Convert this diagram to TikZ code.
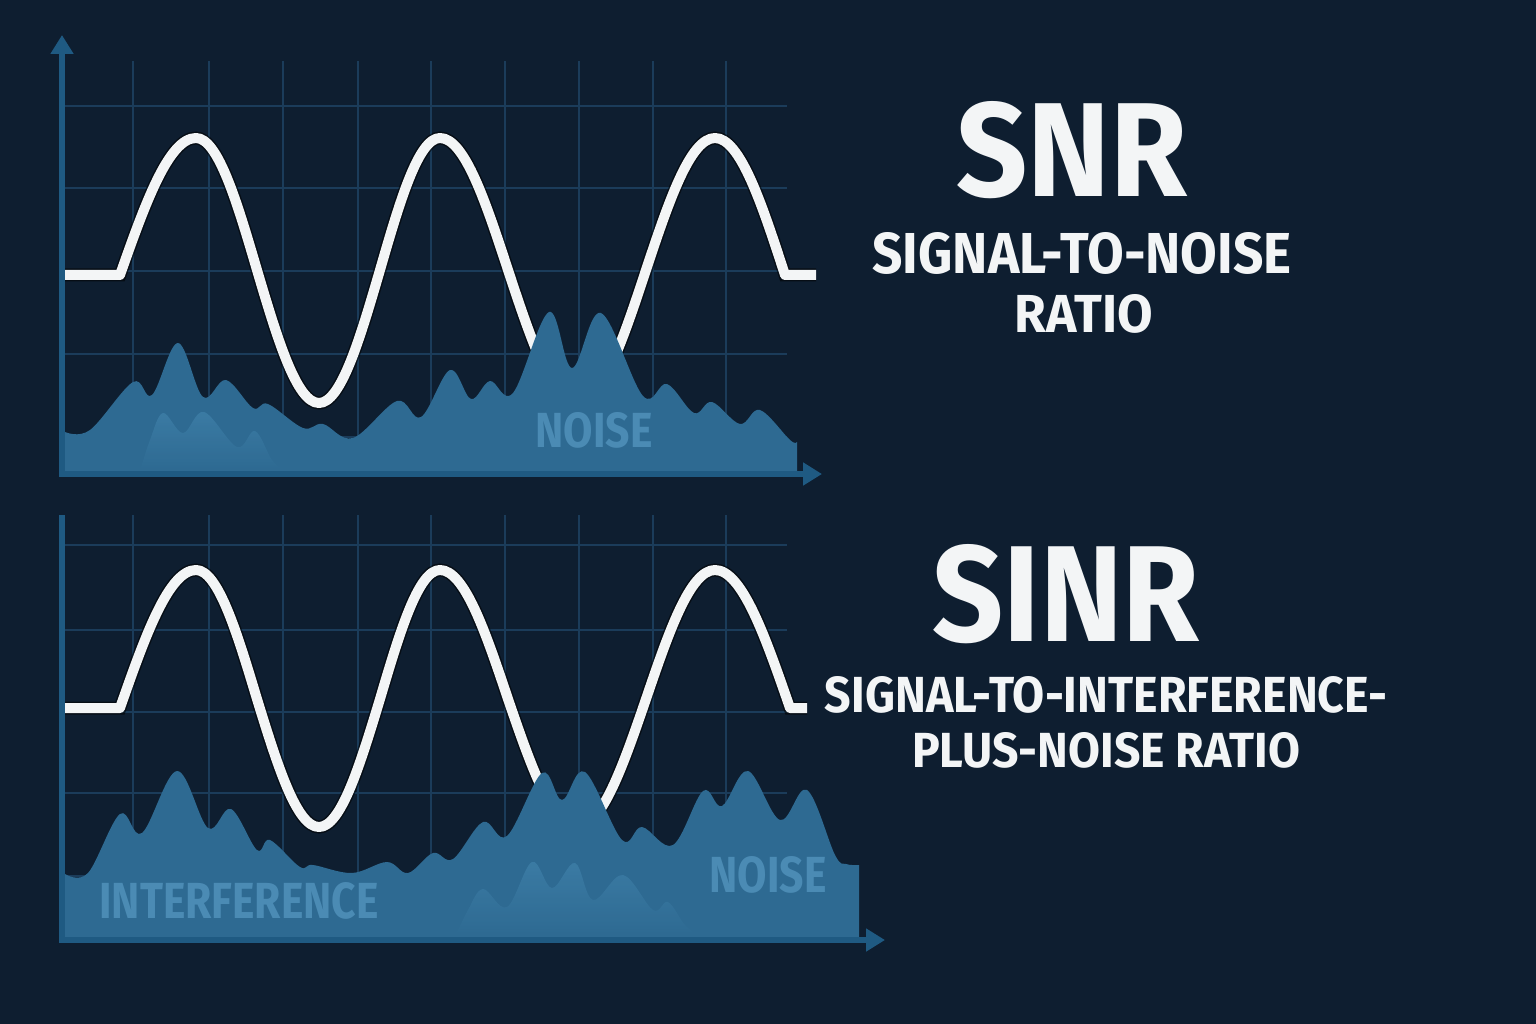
\documentclass[tikz,border=0pt]{standalone}
\usepackage{fontspec}
\setmainfont{Fira Sans}
\usepackage{graphicx}
\usetikzlibrary{arrows.meta}

\definecolor{bgnavy}{HTML}{0E1E30}
\definecolor{gridblue}{HTML}{1B3C5A}
\definecolor{axisblue}{HTML}{1F5A82}
\definecolor{noiseblue}{HTML}{2E6A92}
\definecolor{humpblue}{HTML}{3F80A9}
\definecolor{labelblue}{HTML}{4B8BB4}
\definecolor{signalwhite}{HTML}{F3F5F6}

% text squeezed into the box it takes in the picture
\newcommand{\fitted}[3]{\resizebox{#1}{#2}{\bfseries #3}}

\begin{document}
\begin{tikzpicture}[x=1pt, y=-1pt,
  gridline/.style={draw=gridblue, line width=1.6pt},
  axis/.style={draw=axisblue, line width=6pt, line join=miter},
  tip/.style={-{Triangle[length=19pt, width=22pt]}},
  signal/.style={draw=signalwhite, line width=10pt, line join=round,
    preaction={draw=black, draw opacity=.55, line width=13pt}},
  noise/.style={fill=noiseblue},
  hump/.style={top color=humpblue, bottom color=noiseblue, opacity=.8},
  heading/.style={text=signalwhite, inner sep=0pt},
  tag/.style={text=labelblue, inner sep=0pt}
]
  \useasboundingbox (0,0) rectangle (1536,1024);
  \fill[bgnavy] (0,0) rectangle (1536,1024);

  % SNR chart
  \foreach \gx in {133,209,283,358,431,505,579,653,726}
    \draw[gridline] (\gx,61) -- (\gx,470);
  \foreach \gy in {106,188,271,354,437}
    \draw[gridline] (65,\gy) -- (787,\gy);
  \draw[signal] (65,275) -- (120,275) sin (196,138) cos (257,270)
    sin (319,403) cos (380,270) sin (440,138) cos (508,270)
    sin (577,403) cos (646,270) sin (715,138) cos (785,275) -- (816,275);
  \fill[noise] plot[smooth, tension=.6] coordinates {(65,432) (90,430)
    (133,382) (152,395) (178,343) (203,397) (226,380) (253,408) (268,404)
    (303,428) (323,424) (353,438) (397,401) (421,417) (450,370) (471,399)
    (490,381) (513,393) (549,312) (572,368) (601,313) (643,396) (667,384)
    (694,413) (712,402) (740,424) (760,410) (790,440) (797,442)}
    -- (797,471) -- (65,471) -- cycle;
  \path[hump] plot[smooth, tension=.6] coordinates {(140,471) (150,440)
    (163,413) (183,433) (204,412) (237,447) (255,431) (272,460) (285,471)}
    -- cycle;
  \node[tag] (noiseA) at (594,430) {\fitted{117pt}{35pt}{NOISE}};
  \coordinate (yA) at (62,35);
  \coordinate (oA) at (62,474);
  \coordinate (xA) at (822,474);
  \draw[axis, tip] (oA) -- (yA);
  \draw[axis, tip] ([xshift=-3pt]oA) -- (xA);

  % SINR chart
  \foreach \gx in {133,209,283,358,431,505,579,653,726}
    \draw[gridline] (\gx,515) -- (\gx,936);
  \foreach \gy in {545,630,712,793,876}
    \draw[gridline] (65,\gy) -- (787,\gy);
  \draw[signal] (65,708) -- (120,708) sin (196,570) cos (257,699)
    sin (319,827) cos (380,699) sin (440,570) cos (508,699)
    sin (577,827) cos (646,699) sin (715,570) cos (790,708) -- (807,708);
  \fill[noise] plot[smooth, tension=.6] coordinates {(65,874) (88,873)
    (120,814) (142,833) (177,771) (208,828) (231,809) (257,850) (270,840)
    (300,867) (313,865) (352,873) (387,862) (408,873) (433,853) (453,859)
    (483,822) (507,836) (542,773) (562,800) (585,772) (622,840) (642,827)
    (673,845) (703,791) (722,806) (748,771) (780,820) (807,790) (835,855)
    (846,864) (859,865)}
    -- (859,937) -- (65,937) -- cycle;
  \path[hump] plot[smooth, tension=.6] coordinates {(455,937) (468,910)
    (483,889) (507,907) (532,862) (552,888) (575,863) (593,900) (623,875)
    (653,910) (668,902) (685,925) (700,937)}
    -- cycle;
  \node[tag] (interB) at (239,901) {\fitted{279pt}{36pt}{INTERFERENCE}};
  \node[tag] (noiseB) at (768,875) {\fitted{117pt}{36pt}{NOISE}};
  \coordinate (yB) at (62,515);
  \coordinate (oB) at (62,940);
  \coordinate (xB) at (885,940);
  \draw[axis] (yB) -- ([yshift=3pt]oB);
  \draw[axis, tip] ([xshift=-3pt]oB) -- (xB);

  % headings
  \node[heading] (snr) at (1072,150) {\fitted{231pt}{95pt}{SNR}};
  \node[heading] (snrlong) at (1082,253) {\fitted{419pt}{41pt}{SIGNAL-TO-NOISE}};
  \node[heading] (snrratio) at (1084,314) {\fitted{138pt}{38pt}{RATIO}};
  \node[heading] (sinr) at (1066,594) {\fitted{267pt}{97pt}{SINR}};
  \node[heading] (sinrlong) at (1106,695) {\fitted{562pt}{36pt}{SIGNAL-TO-INTERFERENCE-}};
  \node[heading] (sinrratio) at (1106,750) {\fitted{388pt}{35pt}{PLUS-NOISE RATIO}};
\end{tikzpicture}
\end{document}
